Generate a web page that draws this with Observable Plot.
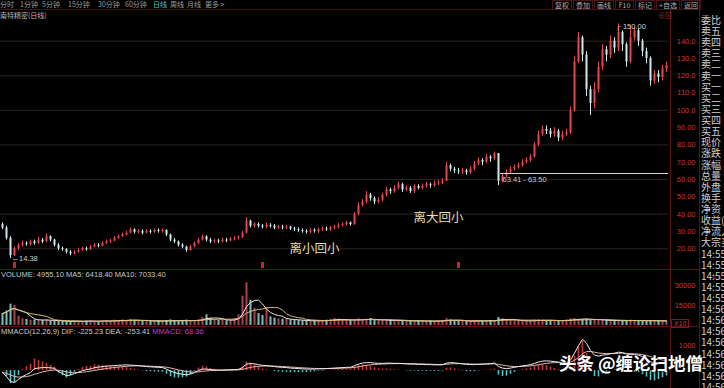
<!DOCTYPE html>
<html><head><meta charset="utf-8">
<script src="https://cdn.jsdelivr.net/npm/d3@7"></script>
<script src="https://cdn.jsdelivr.net/npm/@observablehq/plot@0.6"></script>
<style>
html,body{margin:0;padding:0;background:#000;}
#wrap{position:relative;width:724px;height:388px;overflow:hidden;background:#000;font-family:"Noto Sans CJK SC","Noto Sans",sans-serif;}
.a{position:absolute;white-space:nowrap;line-height:1;}
.panel{position:absolute;left:0;}
.panel svg{display:block;}
.ln{position:absolute;background:#5a1216;}
</style></head>
<body><div id="wrap"></div>
<script>
// ---------------- data ----------------
const firstOpen = 34;
const closes = [
  32, 26, 16, 20, 22, 23, 22.5, 24, 23, 25,
  24, 27, 25, 22, 20, 19.5, 18, 17, 18, 19,
  20, 19.5, 21, 22, 21.5, 23, 24, 24.5, 26, 27,
  28, 29, 31, 29.5, 30, 29, 30, 29.5, 30.5, 30,
  30.5, 28, 25, 24, 22, 21, 19, 21, 23, 25,
  27, 25, 24, 24.5, 24, 25, 24.5, 25.5, 26, 26.5,
  29, 36, 33, 34, 33, 32.5, 33.5, 33, 32, 32.5,
  32, 32.5, 31.5, 31, 30.5, 30, 29.5, 30.5, 30, 31,
  31.5, 31, 32, 32.5, 33.5, 34, 35, 34, 40, 45,
  47, 51, 49, 47, 48, 51, 54, 53, 55, 57,
  54, 55, 53, 56, 55, 56, 57, 56.5, 57.5, 58,
  59, 68, 66, 65, 64.5, 65, 64, 66, 69, 71,
  70, 73, 72, 75, 59, 62, 64, 66, 67, 68,
  70, 71, 73, 80, 86, 89, 88, 86, 88, 84,
  86, 87, 100, 128, 142, 132, 112, 104, 112, 125,
  135, 132, 140, 136, 145, 138, 128, 142, 146, 140,
  134, 130, 117, 121, 119, 124, 126
];
const highs = [
  35, 33, 27, 21, 23, 24.5, 24, 25, 25, 26.5,
  26, 28.5, 27.5, 25.5, 23, 21, 20, 19, 19, 20,
  21, 21, 22, 23, 23, 24, 25, 25.5, 27, 28,
  29, 30, 32, 31.5, 31, 31, 31, 31, 31.5, 31.5,
  31.5, 31, 28.5, 26, 24.5, 23, 21.5, 22, 24, 26,
  28, 27.5, 26, 25.5, 25.5, 26, 26, 26.5, 27, 27.5,
  30, 38, 36.5, 35, 35, 34, 35, 34.5, 34, 33.5,
  33.5, 33.5, 33, 32.5, 32, 31.5, 31, 31.5, 31.5, 32,
  32.5, 32.5, 33, 33.5, 34.5, 35, 36, 35.5, 41, 46.5,
  48.5, 53, 52, 50, 49.5, 52, 55.5, 55, 56.5, 58.5,
  58, 56.5, 56, 57, 57, 57.5, 58.5, 58, 59, 59.5,
  60.5, 70, 69, 67, 66.5, 66.5, 66, 67.5, 70.5, 72.5,
  72, 74.5, 74, 76, 75, 63, 65.5, 67.5, 68.5, 69.5,
  71.5, 72.5, 74.5, 81.5, 88, 91, 91, 89.5, 90, 89,
  88, 89, 102, 131, 145, 143, 134, 114, 116, 128,
  138, 137, 143, 142, 150, 146, 139, 149, 148, 147,
  141, 136, 131, 123, 123, 126, 128
];
const lows = [
  31, 25, 14.38, 15.5, 19, 21, 21.5, 21.5, 22, 22.5,
  23, 23.5, 24, 21, 19, 18.5, 17, 16, 16.5, 17.5,
  18.5, 18.5, 19, 20.5, 20.5, 21, 22.5, 23, 24, 25.5,
  26.5, 27.5, 28.5, 28.5, 28.5, 28, 28.5, 28.5, 29, 29,
  29, 27, 24, 23, 21, 20, 18, 18.5, 20.5, 22.5,
  24.5, 24, 23, 23, 23, 23.5, 23.5, 24, 24.5, 25,
  26, 28.5, 32, 32, 32, 31.5, 31.5, 32, 31, 31,
  31, 31, 30.5, 30, 29.5, 29, 28.5, 28.5, 29, 29,
  30, 30, 30, 31, 31.5, 32.5, 33, 33, 33.5, 39,
  44, 46, 47.5, 45.5, 46, 47, 50, 51.5, 52, 54,
  52.5, 53, 52, 52, 54, 54, 55, 55, 55.5, 56.5,
  57, 59, 64.5, 63.5, 63, 63, 62.5, 63, 65, 68,
  68, 69, 70, 71, 56.5, 58, 61, 63, 65, 66,
  67, 69, 70, 72.5, 79, 85, 86, 84, 84.5, 82,
  82.5, 85, 86, 99, 127, 128, 108, 97, 101, 110,
  123, 128, 130, 133, 134, 134, 125, 127, 140, 137,
  131, 127, 114, 115, 116, 117, 122
];
const volumes = [
  9000, 11000, 16000, 15000, 7000, 5000, 4500, 4000, 4200, 3800,
  4000, 4500, 3500, 3200, 3000, 3300, 2800, 3000, 3500, 3200,
  3000, 3400, 3600, 3200, 3000, 3500, 3800, 3300, 4000, 3600,
  4200, 3800, 4500, 4000, 3500, 3300, 3600, 3200, 3000, 3400,
  3200, 3800, 4200, 3600, 3400, 3800, 4000, 3500, 3700, 4200,
  6000, 8000, 5500, 4500, 3800, 4000, 3600, 4200, 5000, 8000,
  22000, 32000, 19000, 13000, 9000, 7500, 13000, 6500, 5500, 5000,
  4800, 4500, 4200, 4000, 3800, 3600, 3500, 3300, 3600, 3400,
  3800, 4000, 4600, 5200, 4800, 4000, 3800, 3600, 4500, 5000,
  4200, 4800, 5200, 4000, 3600, 3800, 4200, 3900, 3500, 3700,
  3400, 3300, 3600, 3200, 3500, 3300, 3100, 3400, 3200, 3600,
  3800, 5200, 4200, 3600, 3400, 3300, 3000, 3200, 3500, 3700,
  3400, 3600, 3800, 3500, 6000, 5200, 4200, 3800, 3600, 3500,
  3300, 3400, 3600, 4000, 4400, 4200, 3800, 3600, 3500, 3400,
  3600, 4200, 5000, 5200, 4800, 4600, 4800, 4400, 4200, 4000,
  3800, 3700, 3600, 3800, 3500, 3400, 3600, 4000, 3800, 3600,
  3500, 3400, 3800, 3600, 3300, 3200, 3000
];
// MMACD DIF line
const difValues = [
  -80, -240, -440, -480, -360, -240, -160, -80, 80, 100,
  120, 120, 110, 90, -40, -120, -200, -180, -120, -60,
  0, 40, 60, 120, 140, 160, 180, 190, 200, 210,
  220, 230, 220, 210, 200, 180, 160, 150, 140, 130,
  120, 60, -20, -80, -120, -150, -170, -140, -80, 0,
  60, 60, 40, 30, 20, 20, 30, 30, 40, 50,
  120, 260, 280, 270, 240, 210, 200, 180, 160, 140,
  130, 120, 100, 90, 80, 70, 60, 60, 60, 70,
  70, 80, 90, 100, 110, 120, 130, 130, 200, 260,
  300, 320, 320, 300, 290, 290, 300, 300, 290, 290,
  280, 270, 260, 260, 250, 250, 240, 240, 230, 230,
  230, 300, 320, 310, 290, 270, 250, 240, 240, 250,
  260, 270, 280, 300, 160, 100, 80, 100, 130, 160,
  190, 210, 240, 290, 340, 380, 390, 380, 360, 340,
  320, 310, 420, 700, 1000, 1260, 1100, 800, 620, 580,
  620, 640, 680, 700, 740, 720, 660, 640, 640, 620,
  560, 480, 360, 300, 280, 280, 290
];
const priceTicks = [20, 30, 40, 50, 60, 70, 80, 90, 100, 110, 120, 130, 140];
const priceGrid = [20, 40, 60, 80, 100, 120, 140];
const volTicks = [15000, 30000];
const macdTicks = [1000];
const eventIdx = [3, 65, 114];
const gapIdx = 124, gapLevel = 63.5, gapLabel = "63.41 - 63.50";
const notes = [
  {i: 78, p: 20, text: "离小回小"},
  {i: 109, p: 37.5, text: "离大回小"}
];
const stockTitle = "南特精密(日线)";
const toolbarItems = ["分时","1分钟","5分钟","15分钟","30分钟","60分钟","日线","周线","月线","更多 >"];
const toolbarButtons = ["复权","叠加","画线","F10","标记","+自选","返回"];
const sideLabels = ["委比","卖五","卖四","卖三","卖二","卖一","买一","买二","买三","买四","买五","现价","涨跌","涨幅","总量","外盘","换手","净资","收益(","净流入","大宗买",
  "14:55","14:55","14:55","14:55","14:55","14:56","14:56","14:56","14:56","14:56","14:56","14:56","14:56"];
const volHeader = "VOLUME: 4955.10  MA5: 6418.40  MA10: 7033.40";
const macdHeader = "MMACD(12,26,9)  DIF: -225.23  DEA: -253.41 ";
const macdHeader2 = "MMACD: 68.36";
const watermark = "头条 @缠论扫地僧";

// ---------------- build tables ----------------
const UP = "#e2484e", DN = "#cfeaea";
const N = closes.length;
const bars = closes.map((c, i) => {
  const o = i ? closes[i - 1] : firstOpen;
  return {i, o, c, hi: highs[i], lo: lows[i], up: c >= o, v: volumes[i]};
});
function ema(arr, n) { const k = 2 / (n + 1); const out = []; arr.forEach((v, i) => out.push(i ? out[i - 1] + k * (v - out[i - 1]) : v)); return out; }
const dea = ema(difValues, 9);
const macd = difValues.map((d, i) => ({i, dif: d, dea: dea[i], hist: 2 * (d - dea[i])}));
const hiBar = bars.reduce((a, b) => b.hi > a.hi ? b : a);
const loBar = bars.reduce((a, b) => b.lo < a.lo ? b : a);

// ---------------- layout helpers ----------------
const wrap = document.getElementById("wrap");
function txt(s, left, top, css) {
  const d = document.createElement("div"); d.className = "a"; d.textContent = s;
  d.style.left = left + "px"; d.style.top = top + "px"; Object.assign(d.style, css || {}); wrap.appendChild(d); return d;
}
function line(left, top, w, h, color) {
  const d = document.createElement("div"); d.className = "ln";
  Object.assign(d.style, {left: left + "px", top: top + "px", width: w + "px", height: h + "px"});
  if (color) d.style.background = color; wrap.appendChild(d);
}
function panel(chart, top) { const d = document.createElement("div"); d.className = "panel"; d.style.top = top + "px"; d.appendChild(chart); wrap.appendChild(d); }

const common = {
  width: 724, marginLeft: 0, marginRight: 56, marginTop: 0, marginBottom: 0,
  x: {domain: [-0.5, N - 0.5], axis: null},
  color: {type: "identity"},
  style: {background: "transparent", color: "#c8363c", fontSize: "7.5px", fontFamily: "'Liberation Sans', sans-serif", overflow: "visible"}
};
const numFmt = d => d >= 100 ? d.toFixed(1) : d.toFixed(2);

// ---------------- price panel ----------------
const price = Plot.plot({
  ...common, height: 257,
  y: {domain: [8, 156.6]},
  marks: [
    Plot.ruleY(priceGrid, {stroke: "#2b2222", strokeWidth: 1}),
    Plot.axisY(priceTicks, {anchor: "right", tickSize: 0, tickPadding: 0, dx: 27, textAnchor: "end", tickFormat: numFmt}),
    Plot.ruleX(bars, {x: "i", y1: "lo", y2: "hi", stroke: d => d.up ? UP : DN, strokeWidth: 1}),
    Plot.ruleX(bars, {x: "i", y1: "o", y2: "c", stroke: d => d.up ? UP : DN, strokeWidth: 2}),
    Plot.ruleX(eventIdx, {x: d => d, insetTop: 250, insetBottom: 1, stroke: "#c0282c", strokeWidth: 3}),
    Plot.ruleY([gapLevel], {y: d => d, x1: gapIdx + 0.5, x2: N - 0.5, stroke: "#d8d8d8", strokeWidth: 1}),
    Plot.text([gapLabel], {x: gapIdx + 1, y: gapLevel, text: d => d, textAnchor: "start", dy: 6, fill: "#c8c8c8", fontSize: 7.5}),
    Plot.text([hiBar], {x: "i", y: "hi", text: d => "┌ " + d.hi.toFixed(2), textAnchor: "start", dx: -3, dy: 3, fill: "#d0d0d0", fontSize: 7.5}),
    Plot.text([loBar], {x: "i", y: "lo", text: d => "←" + d.lo.toFixed(2), textAnchor: "start", dx: 1, fill: "#d0d0d0", fontSize: 7.5}),
    Plot.text(notes, {x: "i", y: "p", text: "text", fill: "#e6dfb4", fontSize: 12.5, fontFamily: "'Noto Sans CJK SC', sans-serif"})
  ]
});

// ---------------- volume panel ----------------
const vol = Plot.plot({
  ...common, height: 56, marginBottom: 1,
  y: {domain: [0, 41250]},
  marks: [
    Plot.axisY(volTicks, {anchor: "right", tickSize: 0, tickPadding: 0, dx: 27, textAnchor: "end", tickFormat: d => String(d)}),
    Plot.ruleX(bars, {x: "i", y1: 0, y2: "v", stroke: d => d.up ? "#a8424e" : "#86b8b8", strokeWidth: 2}),
    Plot.lineY(bars, Plot.windowY({k: 5, anchor: "end"}, {x: "i", y: "v", stroke: "#e8e8e8", strokeWidth: 1})),
    Plot.lineY(bars, Plot.windowY({k: 10, anchor: "end"}, {x: "i", y: "v", stroke: "#d8c070", strokeWidth: 1}))
  ]
});

// ---------------- MACD panel ----------------
const mac = Plot.plot({
  ...common, height: 61,
  y: {domain: [-720, 1730]},
  clip: true,
  marks: [
    Plot.axisY(macdTicks, {anchor: "right", tickSize: 0, tickPadding: 0, dx: 27, textAnchor: "end", tickFormat: d => String(d)}),
    Plot.ruleX(macd, {x: "i", y1: 0, y2: "hist", stroke: d => d.hist >= 0 ? "#c83a3a" : "#5cc4c4", strokeWidth: 1.6}),
    Plot.lineY(macd, {x: "i", y: "dea", stroke: "#e0b8b0", strokeWidth: 1}),
    Plot.lineY(macd, {x: "i", y: "dif", stroke: "#eeeeee", strokeWidth: 1})
  ]
});

panel(price, 12);
panel(vol, 270);
panel(mac, 327);

// ---------------- frame & texts ----------------
line(0, 9, 700, 1, "#4a1014");
line(0, 269, 700, 1);
line(0, 326, 700, 1);
line(670, 10, 1, 378);
line(699, 0, 1, 388);

// toolbar
const tbX = [0, 20, 42, 68, 98, 125, 153, 170, 187, 205];
toolbarItems.forEach((s, k) => txt(s, tbX[k], 1, {fontSize: "7px", color: s === "日线" ? "#4ec2c8" : "#9a9a9a"}));
const btnBox = document.createElement("div");
Object.assign(btnBox.style, {position: "absolute", left: "552px", top: "0px", display: "flex", gap: "1px"});
toolbarButtons.forEach(s => {
  const b = document.createElement("div"); b.textContent = s;
  Object.assign(b.style, {fontSize: "7px", lineHeight: "8px", color: "#b0b0b0", border: "1px solid #4a1418", padding: "0 2px", minWidth: "13px", textAlign: "center"});
  btnBox.appendChild(b);
});
wrap.appendChild(btnBox);
txt(stockTitle, 0, 12, {fontSize: "7px", color: "#b8b8b8"});
txt("⊕⊠", 658, 12, {fontSize: "7px", color: "#9a2a2e"});

// right info column (clipped at the window edge, as in the reference)
const side = document.createElement("div");
Object.assign(side.style, {position: "absolute", left: "701px", top: "0px", width: "23px", height: "388px", overflow: "hidden"});
sideLabels.forEach((s, k) => {
  const d = document.createElement("div"); d.textContent = s;
  Object.assign(d.style, {position: "absolute", left: "0px", top: (20 + 11.12 * k - 5) + "px", height: "10px", fontSize: "10px", lineHeight: "10px", color: "#cfcfcf", whiteSpace: "nowrap", fontFamily: "'Noto Sans CJK SC', sans-serif"});
  side.appendChild(d);
});
wrap.appendChild(side);

// sub-panel headers
txt(volHeader, 1, 271, {fontSize: "7.5px", color: "#c8c8c8", fontFamily: "'Liberation Sans', sans-serif"});
const mh = txt(macdHeader, 1, 328, {fontSize: "7.5px", color: "#c8c8c8", fontFamily: "'Liberation Sans', sans-serif"});
const mh2 = document.createElement("span"); mh2.textContent = macdHeader2; mh2.style.color = "#c03cc8"; mh.appendChild(mh2);
txt("X10", 671, 319, {fontSize: "7px", color: "#c8363c", border: "1px solid #7a1a1e", padding: "0 2px", fontFamily: "'Liberation Sans', sans-serif"});

// watermark
txt(watermark, 559, 354, {fontSize: "17.5px", fontWeight: "bold", color: "#ffffff", fontFamily: "'Noto Sans CJK SC', sans-serif", textShadow: "0 0 2px #000"});
</script>
</body></html>
